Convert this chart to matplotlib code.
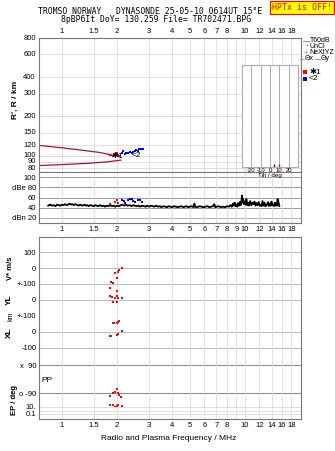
import matplotlib
matplotlib.use('Agg')
import matplotlib.pyplot as plt
from matplotlib.ticker import NullLocator, FixedLocator

plt.rcParams['font.family'] = ['Liberation Sans', 'DejaVu Sans']

W, H = 335, 451
F_MIN, F_MAX = 0.748, 20.3

freq_ticks = [1, 1.5, 2, 3, 4, 5, 6, 7, 8, 9, 10, 12, 14, 16, 18]
top_labels = ['1', '1.5', '2', '3', '4', '5', '6', '7', '8', '', '10', '12', '14', '16', '18']
mid_labels = ['1', '1.5', '2', '3', '4', '5', '6', '7', '8', '9', '10', '12', '14', '16', '18']
r_ticks = [80, 90, 100, 120, 150, 200, 300, 400, 600, 800]

# virtual height traces
o_f = [1.82, 1.86, 1.9, 1.93, 1.96, 1.99, 2.02, 2.05]
o_h = [101, 102, 100, 103, 101, 104, 102, 100]
x_f = [2.12, 2.15, 2.2, 2.25, 2.3, 2.35, 2.4, 2.45, 2.5, 2.55, 2.6, 2.65, 2.7, 2.78]
x_h = [104, 108, 103, 105, 104, 106, 105, 107, 108, 110, 109, 112, 113, 112]
model_up_f = [0.75, 1.0, 1.3, 1.6, 1.83]
model_up_h = [120, 115, 110, 106, 102]
model_lo_f = [0.75, 1.0, 1.4, 1.8, 2.1]
model_lo_h = [84, 85.5, 87.5, 90, 92.5]
tilt_o, tilt_x = 10, 4

# amplitudes
noise_f = [0.84, 0.86, 0.88, 0.9, 0.92, 0.94, 0.96, 0.98, 1.0, 1.02, 1.04, 1.06, 1.08,
           1.1, 1.12, 1.14, 1.16, 1.18, 1.2, 1.23, 1.25, 1.28, 1.3, 1.33, 1.35, 1.38,
           1.4, 1.43, 1.46, 1.49, 1.52, 1.55, 1.58, 1.62, 1.65, 1.69, 1.72, 1.76, 1.8,
           1.84, 1.88, 1.92, 1.96, 2.0, 2.05, 2.1, 2.14, 2.19, 2.24, 2.29, 2.34, 2.4,
           2.45, 2.5, 2.56, 2.62, 2.68, 2.74, 2.8, 2.87, 2.93, 3.0, 3.06, 3.13, 3.2,
           3.28, 3.35, 3.43, 3.5, 3.58, 3.66, 3.75, 3.83, 3.92, 4.0, 4.1, 4.2, 4.3, 4.4,
           4.5, 4.6, 4.7, 4.8, 4.9, 5.0, 5.12, 5.25, 5.3, 5.35, 5.5, 5.65, 5.8, 5.95,
           6.1, 6.25, 6.4, 6.55, 6.7, 6.8, 6.9, 7.05, 7.2, 7.4, 7.6, 7.8, 8.0, 8.2,
           8.35, 8.5, 8.6, 8.7, 8.8, 8.9, 9.0, 9.1, 9.2, 9.3, 9.4, 9.5, 9.6, 9.65, 9.7,
           9.8, 9.9, 10.0, 10.1, 10.2, 10.3, 10.4, 10.55, 10.7, 10.85, 11.0, 11.15,
           11.3, 11.45, 11.6, 11.75, 11.9, 12.05, 12.2, 12.35, 12.5, 12.65, 12.8, 12.95,
           13.1, 13.25, 13.4, 13.55, 13.7, 13.85, 14.0, 14.15, 14.3, 14.45, 14.6, 14.75,
           14.9, 15.0, 15.1, 15.2, 15.3, 15.45]
noise_db = [44, 46, 44, 45, 43, 46, 45, 44, 46, 45, 47, 45, 46,
            48, 46, 47, 45, 47, 46, 44, 46, 45, 44, 46, 44, 45,
            43, 45, 44, 43, 45, 44, 43, 45, 43, 44, 42, 44, 43,
            45, 43, 44, 42, 44, 43, 45, 46, 44, 46, 44, 45, 43,
            45, 44, 43, 44, 42, 44, 43, 42, 44, 42, 44, 43, 42,
            44, 42, 43, 41, 43, 42, 41, 43, 42, 41, 43, 42, 41, 42,
            43, 41, 42, 43, 41, 42, 43, 41, 48, 42, 41, 43, 42, 41,
            42, 43, 41, 42, 43, 47, 41, 42, 43, 41, 42, 41, 43, 42,
            45, 42, 48, 44, 50, 43, 46, 42, 49, 44, 51, 45, 55, 64, 50,
            57, 47, 52, 46, 57, 45, 50, 44, 53, 45, 50, 47,
            52, 44, 49, 45, 51, 44, 46, 43, 53, 44, 50, 43,
            44, 47, 51, 43, 48, 44, 52, 45, 46, 43, 50, 44,
            48, 44, 57, 55, 50, 43]
amp_o_f = [1.83, 1.95, 2.0, 2.03]
amp_o = [47, 52, 55, 50]
amp_x_f = [2.14, 2.21, 2.3, 2.4, 2.51, 2.62, 2.73, 2.18, 2.35, 2.45, 2.68]
amp_x = [55, 49, 56, 58, 52, 55, 52, 53, 57, 54, 56]

# echo parameters
vs_f = [2.12, 2.05, 2.03, 1.95, 2.01, 1.85, 1.89]
vs_v = [0, -14, -27, -29, -60, -85, -94]
yl_f = [1.83, 1.99, 1.83, 1.87, 2.01, 2.03, 1.95, 2.12, 1.91, 1.99]
yl_km = [77, 58, 27, 19, 22, 10, 10, 10, -10, -10]
xl_f = [2.05, 2.03, 1.93, 1.89, 1.99, 2.12, 2.03, 2.01, 1.85, 1.83]
xl_km = [70, 64, 58, 58, 54, 6, -11, -17, -23, -23]
pp_f = [1.99, 1.95, 2.03, 1.89, 1.83, 2.06, 2.1, 1.83, 1.91, 1.95, 1.99, 2.03, 2.12]
pp_deg = [-64, -82, -88, -88, -107, -103, -114, -167, -167, -178, -174, -167, -174]

fig = plt.figure(figsize=(W / 100, H / 100), dpi=100)


def fx(x):
    return x / W


def fy(y):
    return 1 - y / H


def panel(y0, y1, labels=None, where='bottom'):
    ax = fig.add_axes([fx(39), fy(y1), fx(301 - 39), (y1 - y0) / H])
    ax.set_xscale('log')
    ax.set_xlim(F_MIN, F_MAX)
    ax.xaxis.set_major_locator(FixedLocator(freq_ticks))
    ax.xaxis.set_minor_locator(NullLocator())
    ax.grid(axis='x', color='#dddddd', lw=0.6)
    ax.set_axisbelow(True)
    if labels is None:
        ax.set_xticklabels([])
    else:
        ax.set_xticklabels(labels)
    ax.tick_params(axis='x', length=0, labelsize=5.5, pad=2.5,
                   labeltop=(labels is not None and where == 'top'),
                   labelbottom=(labels is not None and where == 'bottom'))
    ax.tick_params(axis='y', length=0, labelsize=5.5, pad=2)
    for s in ax.spines.values():
        s.set_color('#777777')
        s.set_linewidth(0.8)
    return ax


def hgrid(ax, vals, color):
    for v in vals:
        ax.axhline(v, color=color, lw=0.7, zorder=0.5)


def side_labels(ax, vals, labels):
    # y labels written as text so log axes keep every value
    ax.yaxis.set_major_locator(NullLocator())
    ax.yaxis.set_minor_locator(NullLocator())
    tr = ax.get_yaxis_transform()
    for v, s in zip(vals, labels):
        ax.text(-0.012, v, s, transform=tr, ha='right', va='center',
                fontsize=5.5, clip_on=False)


# --- virtual height panel
ax_r = panel(38, 172, top_labels, 'top')
ax_r.set_yscale('log')
ax_r.set_ylim(75, 800)
side_labels(ax_r, r_ticks, [str(t) for t in r_ticks])
hgrid(ax_r, r_ticks, '#dddddd')
ax_r.plot(model_up_f, model_up_h, color='#b0103a', lw=0.9)
ax_r.plot(model_lo_f, model_lo_h, color='#b0103a', lw=0.9)
ax_r.plot(o_f, o_h, 's', color='red', ms=2, mew=0)
ax_r.plot(x_f, x_h, 's', color='blue', ms=2, mew=0)
ax_r.text(2.0, 99, '✱1', fontsize=6, ha='center', va='center')
ax_r.text(2.55, 101, '<2', fontsize=6, ha='center', va='center')

# tilt inset
ax_t = fig.add_axes([fx(242), fy(167), fx(298 - 242), (167 - 65) / H], zorder=5)
ax_t.set_xlim(-30, 30)
ax_t.set_ylim(0, 1)
ax_t.set_xticks([-20, -10, 0, 10, 20])
ax_t.set_xticklabels(['-20', '-10', '0', '10', '20'])
ax_t.set_yticks([])
ax_t.grid(axis='x', color='#aaaabb', lw=0.7)
ax_t.tick_params(axis='x', length=0, labelsize=4.2, pad=1)
for s in ax_t.spines.values():
    s.set_color('#aaaabb')
    s.set_linewidth(0.8)
ax_t.vlines([tilt_x], 0, 0.03, color='blue', lw=1.0)
ax_t.vlines([tilt_o], 0, 0.03, color='red', lw=1.0)
ax_t.set_xlabel('Tilt / deg', fontsize=4.5, labelpad=0)

# --- amplitude panel
ax_db = panel(172, 223, mid_labels, 'bottom')
ax_db.set_ylim(10, 110)
ax_db.set_yticks([100, 80, 60, 40, 20])
ax_db.set_yticklabels(['100', 'dBe 80', '60', '40', 'dBn 20'])
hgrid(ax_db, [100, 80, 60, 40], '#999999')
hgrid(ax_db, [20], '#aaaaee')
ax_db.plot(noise_f, noise_db, color='black', lw=1.3)
ax_db.plot(amp_o_f, amp_o, 's', color='red', ms=2, mew=0)
ax_db.plot(amp_x_f, amp_x, 's', color='blue', ms=2, mew=0)

# --- echo parameter block
ax_v = panel(237, 284)
ax_v.set_ylim(-100, 194)
ax_v.set_yticks([100, 0, -100])
ax_v.set_yticklabels(['100', '0', '+-100'])
hgrid(ax_v, [100, 0], '#bbbbbb')
ax_v.plot(vs_f, vs_v, 's', color='red', ms=2, mew=0, clip_on=False)

ax_yl = panel(284, 316)
ax_yl.set_ylim(-100, 100)
ax_yl.set_yticks([0, -100])
ax_yl.set_yticklabels(['0', '+-100'])
hgrid(ax_yl, [100, 0, -100], '#bbbbbb')
ax_yl.plot(yl_f, yl_km, 's', color='red', ms=2, mew=0, clip_on=False)

ax_xl = panel(316, 351)
ax_xl.set_ylim(-119, 100)
ax_xl.set_yticks([0, -100])
ax_xl.set_yticklabels(['0', '-100'])
hgrid(ax_xl, [0, -100], '#bbbbbb')
ax_xl.plot(xl_f, xl_km, 's', color='red', ms=2, mew=0, clip_on=False)

ax_pp = panel(351, 407)
ax_pp.set_ylim(-180, 180)
ax_pp.set_yticks([90, -90])
ax_pp.set_yticklabels(['x  90', 'o -90'])
hgrid(ax_pp, [90, -90], '#888888')
ax_pp.plot(pp_f, pp_deg, 's', color='red', ms=2, mew=0, clip_on=False)

ax_ep = panel(407, 419, top_labels, 'bottom')
ax_ep.set_yscale('log')
ax_ep.set_ylim(0.0037, 11)
side_labels(ax_ep, [10, 0.1], ['10.', '0.1'])
hgrid(ax_ep, [10, 1, 0.1], '#dddddd')

block = [ax_v, ax_yl, ax_xl, ax_pp, ax_ep]
for i, ax in enumerate(block):
    if i > 0:
        ax.spines['top'].set_visible(False)
    if i < len(block) - 1:
        ax.spines['bottom'].set_visible(False)
ax_r.spines['bottom'].set_visible(False)

# --- axis titles
fig.text(fx(15), fy(100), "R', R / km", rotation=90, fontsize=6, fontweight='bold',
         ha='center', va='center')
fig.text(fx(11), fy(268), 'V* m/s', rotation=90, fontsize=5.5, fontweight='bold',
         ha='center', va='center')
fig.text(fx(9), fy(300), 'YL', rotation=90, fontsize=6, fontweight='bold',
         ha='center', va='center')
fig.text(fx(11), fy(316), 'km', rotation=90, fontsize=5, ha='center', va='center')
fig.text(fx(9), fy(333), 'XL', rotation=90, fontsize=6, fontweight='bold',
         ha='center', va='center')
fig.text(fx(47), fy(380), 'PP', fontsize=6, ha='center', va='center')
fig.text(fx(15), fy(400), 'EP / deg', rotation=90, fontsize=5.5, fontweight='bold',
         ha='center', va='center')
fig.text(fx(169), fy(439), 'Radio and Plasma Frequency / MHz', fontsize=6,
         ha='center', va='center')

# --- header
fig.text(fx(150), fy(12), 'TROMSO NORWAY   DYNASONDE 25-05-10 0614UT 15°E',
         family='DejaVu Sans Mono', fontsize=5.9, ha='center', va='center')
fig.text(fx(156), fy(20), '8pBP6It DoY= 130.259 File= TR702471.BPG',
         family='DejaVu Sans Mono', fontsize=5.9, ha='center', va='center')
fig.text(fx(302), fy(7.5), 'HPTx is OFF!', family='DejaVu Sans Mono', fontsize=6,
         color='red', ha='center', va='center',
         bbox=dict(boxstyle='square,pad=0.2', fc='#ffff00', ec='red', lw=0.8))

# --- legend
fig.add_artist(plt.Line2D([fx(303), fx(309)], [fy(41)] * 2, color='#999999', lw=0.8))
fig.text(fx(310), fy(41), 'T60dB', fontsize=5, va='center')
fig.text(fx(307), fy(47), '·', fontsize=6, va='center', ha='center')
fig.text(fx(310), fy(47), 'UnCl', fontsize=5, va='center')
fig.text(fx(306), fy(53), '+', fontsize=5.5, color='#dd6688', va='center', ha='center')
fig.text(fx(309), fy(53), 'NeXtYZ', fontsize=5, va='center')
fig.add_artist(plt.Line2D([fx(300), fx(304)], [fy(59)] * 2, color='#ee8888', lw=0.8))
fig.text(fx(304.5), fy(59), 'Θx', fontsize=5, va='center')
fig.add_artist(plt.Line2D([fx(315), fx(320)], [fy(59)] * 2, color='#8899dd', lw=0.8))
fig.text(fx(320.5), fy(59), 'Θy', fontsize=5, va='center')
fig.add_artist(plt.Line2D([fx(305)], [fy(72)], marker='s', color='red', ms=2.2, mew=0))
fig.text(fx(309), fy(72), '✱1', fontsize=6, va='center')
fig.add_artist(plt.Line2D([fx(305)], [fy(79)], marker='s', color='blue', ms=2.2, mew=0))
fig.text(fx(309), fy(79), '<2', fontsize=6, va='center')

fig.savefig('out.png', dpi=100)
